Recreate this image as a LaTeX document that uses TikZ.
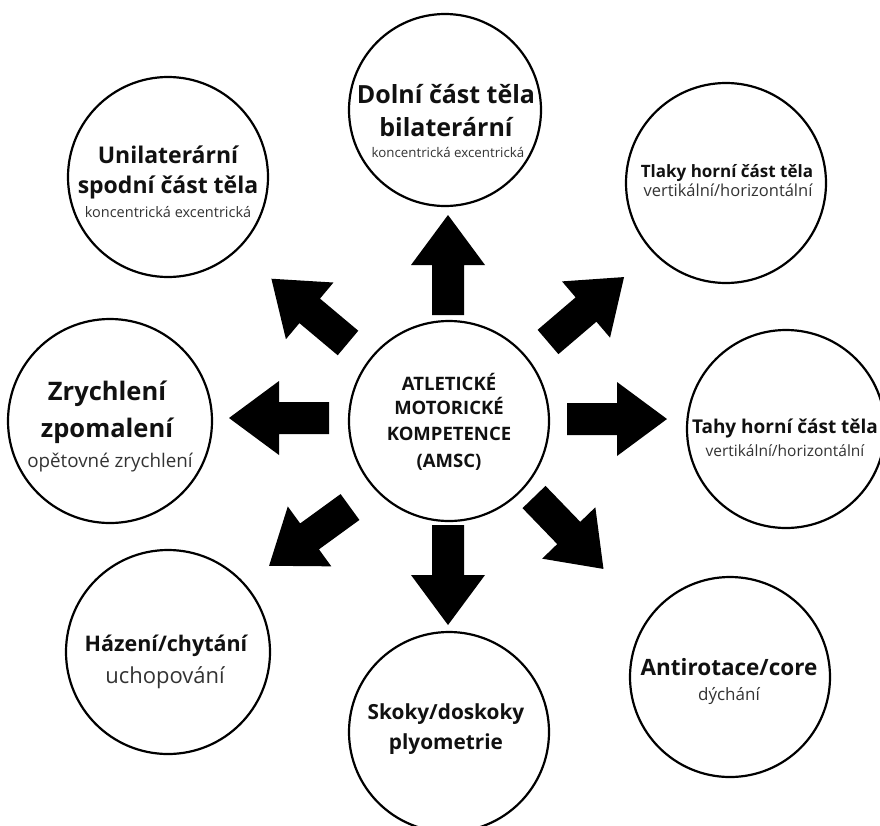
\documentclass[tikz,border=0pt]{standalone}
\usepackage{fontspec}
\setmainfont{Open Sans}
\definecolor{ink}{HTML}{111111}
\definecolor{soft}{HTML}{333333}
\tikzset{
  ring/.style={circle, draw=black, line width=2.2pt, minimum size=#1, inner sep=0pt},
  head/.style={anchor=base, inner sep=0pt, text=ink, font=\bfseries\fontsize{#1}{#1}\selectfont},
  sub/.style={anchor=base, inner sep=0pt, text=soft, font=\fontsize{#1}{#1}\selectfont},
  blockarrow/.pic={
    \fill[black] (0,-16) -- (50,-16) -- (50,-37) -- (100,0) -- (50,37) -- (50,16) -- (0,16) -- cycle;
  }
}
\begin{document}
\begin{tikzpicture}[x=1pt, y=-1pt]
\useasboundingbox[fill=white] (0,0) rectangle (880,825);

% circles
\node[ring=192pt] (top) at (445,110) {};
\node[ring=200pt] (tl)  at (168,177) {};
\node[ring=200pt] (tr)  at (726,183) {};
\node[ring=204pt] (lft) at (110,421) {};
\node[ring=200pt] (ctr) at (449,421) {};
\node[ring=198pt] (rgt) at (786,429) {};
\node[ring=204pt] (bl)  at (168,652) {};
\node[ring=200pt] (bot) at (449,732) {};
\node[ring=200pt] (br)  at (730,677) {};

% block arrows radiating from the centre
\pic[rotate=90]   at (448,315) {blockarrow};
\pic[rotate=-90]  at (448,525) {blockarrow};
\pic[rotate=180]  at (329,418) {blockarrow};
\pic[rotate=0]    at (567,419) {blockarrow};
\pic[rotate=140]  at (348,343) {blockarrow};
\pic[rotate=40.5] at (548,342) {blockarrow};
\pic[rotate=216]  at (350,507) {blockarrow};
\pic[rotate=-46]  at (534,497) {blockarrow};

% centre text
\node[head=18.5] (c1) at (449,390) {ATLETICKÉ};
\node[head=18.5] (c2) at (449,414) {MOTORICKÉ};
\node[head=18.5] (c3) at (449,440) {KOMPETENCE};
\node[head=18.5] (c4) at (449,467) {(AMSC)};

% top
\node[head=25] (t1) at (446,103) {Dolní část těla};
\node[head=25] (t2) at (446,136) {bilaterární};
\node[sub=13.3] (t3) at (448,157) {koncentrická excentrická};

% top left
\node[head=23] (tl1) at (168,163) {Unilaterární};
\node[head=23] (tl2) at (168,193) {spodní část těla};
\node[sub=14.5] (tl3) at (168,217) {koncentrická excentrická};

% top right
\node[head=17] (tr1) at (727,177) {Tlaky horní část těla};
\node[sub=16.5] (tr2) at (728,196) {vertikální/horizontální};

% left
\node[head=25.5] (l1) at (107,400) {Zrychlení};
\node[head=25.5] (l2) at (107,437) {zpomalení};
\node[sub=18.8] (l3) at (110,467) {opětovné zrychlení};

% right
\node[head=19] (r1) at (785,433) {Tahy horní část těla};
\node[sub=15.5] (r2) at (785,456) {vertikální/horizontální};

% bottom left
\node[head=21.5] (bl1) at (166,651) {Házení/chytání};
\node[sub=22] (bl2) at (165,683) {uchopování};

% bottom
\node[head=20.8] (b1) at (446,719) {Skoky/doskoky};
\node[head=20.8] (b2) at (446,749) {plyometrie};

% bottom right
\node[head=22.5] (br1) at (729,675) {Antirotace/core};
\node[sub=17] (br2) at (729,700) {dýchání};
\end{tikzpicture}
\end{document}
